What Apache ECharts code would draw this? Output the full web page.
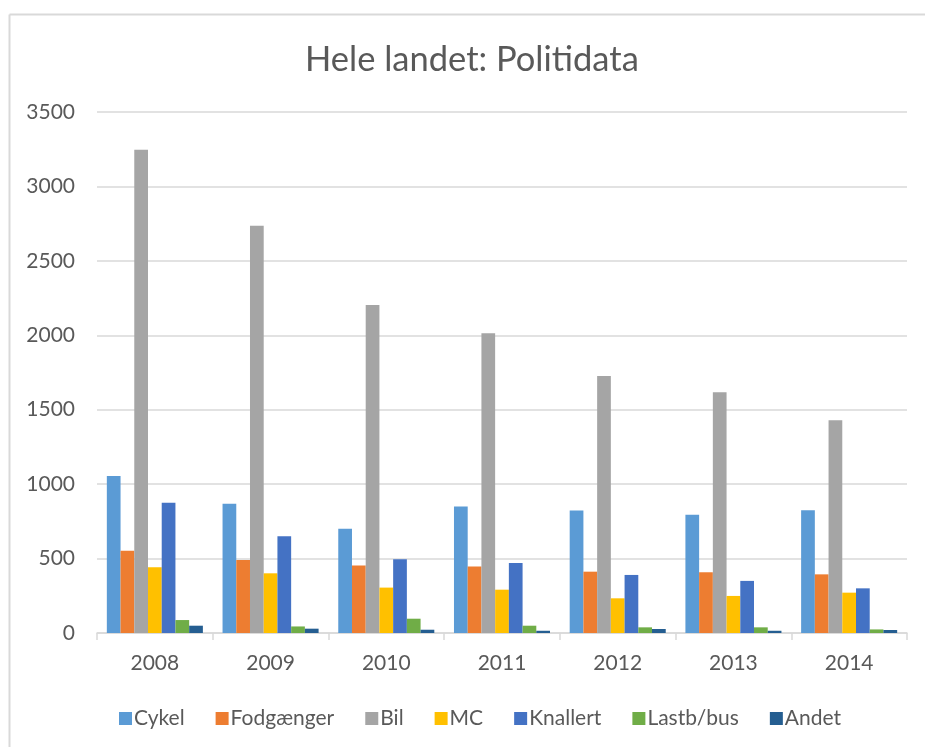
<!DOCTYPE html>
<html>
<head>
<meta charset="utf-8">
<script src="https://cdn.jsdelivr.net/npm/echarts@6/dist/echarts.min.js"></script>
<style>
  html, body { margin: 0; padding: 0; background: #fff; overflow: hidden; }
  #chart { width: 925px; height: 747px; }
</style>
</head>
<body>
<div id="chart"></div>
<script>
const years = ['2008', '2009', '2010', '2011', '2012', '2013', '2014']
const cykel = [1054, 868, 700, 850, 823, 794, 825]
const fodgaenger = [552, 491, 453, 446, 412, 408, 394]
const bil = [3246, 2736, 2204, 2014, 1726, 1618, 1430]
const mc = [441, 401, 305, 291, 233, 249, 271]
const knallert = [875, 650, 495, 471, 390, 350, 300]
const lastbus = [87, 44, 96, 49, 38, 38, 24]
const andet = [49, 29, 22, 15, 27, 15, 20]

const names = ['Cykel', 'Fodgænger', 'Bil', 'MC', 'Knallert', 'Lastb/bus', 'Andet']
const colors = ['#5B9BD5', '#ED7D31', '#A5A5A5', '#FFC000', '#4472C4', '#70AD47', '#255E91']
const values = [cykel, fodgaenger, bil, mc, knallert, lastbus, andet]

const chart = echarts.init(document.getElementById('chart'))
const font = 'Lato, "Noto Sans", sans-serif'

let option = {
  animation: false,
  color: colors,
  textStyle: { fontFamily: font },
  title: {
    text: 'Hele landet: Politidata',
    left: 300,
    top: 37,
    textStyle: { color: '#595959', fontSize: 34.5, fontWeight: 'normal', fontFamily: font },
  },
  graphic: [
    // frame: only top and left edges are in view
    {
      type: 'line',
      shape: { x1: 9.5, y1: 14.5, x2: 925, y2: 14.5 },
      style: { stroke: '#d9d9d9', lineWidth: 2 },
      silent: true,
    },
    {
      type: 'line',
      shape: { x1: 9.5, y1: 14.5, x2: 9.5, y2: 747 },
      style: { stroke: '#d9d9d9', lineWidth: 2 },
      silent: true,
    },
  ],
  legend: {
    bottom: 13,
    left: 114,
    itemWidth: 13,
    itemHeight: 13,
    itemGap: 31,
    icon: 'rect',
    textStyle: { color: '#595959', fontSize: 21, fontFamily: font, padding: [0, 0, 0, -3] },
    data: names,
  },
  grid: {
    left: 97,
    right: 18,
    top: 112,
    bottom: 114,
  },
  xAxis: {
    type: 'category',
    data: years,
    axisLine: { lineStyle: { color: '#d9d9d9', width: 1.5 } },
    axisTick: { show: true, length: 7, lineStyle: { color: '#d9d9d9', width: 1.5 } },
    axisLabel: { color: '#595959', fontSize: 21, margin: 20, fontFamily: font },
  },
  yAxis: {
    type: 'value',
    min: 0,
    max: 3500,
    interval: 500,
    axisLine: { show: false },
    axisTick: { show: false },
    axisLabel: { color: '#595959', fontSize: 21, margin: 22, fontFamily: font, formatter: (v) => String(v) },
    splitLine: { lineStyle: { color: '#d9d9d9', width: 1.5 } },
  },
  series: names.map((name, i) => ({
    name: name,
    type: 'bar',
    data: values[i],
    barGap: '0%',
    barCategoryGap: '17%',
    itemStyle: { color: colors[i] },
  })),
}
chart.setOption(option)
</script>
</body>
</html>
